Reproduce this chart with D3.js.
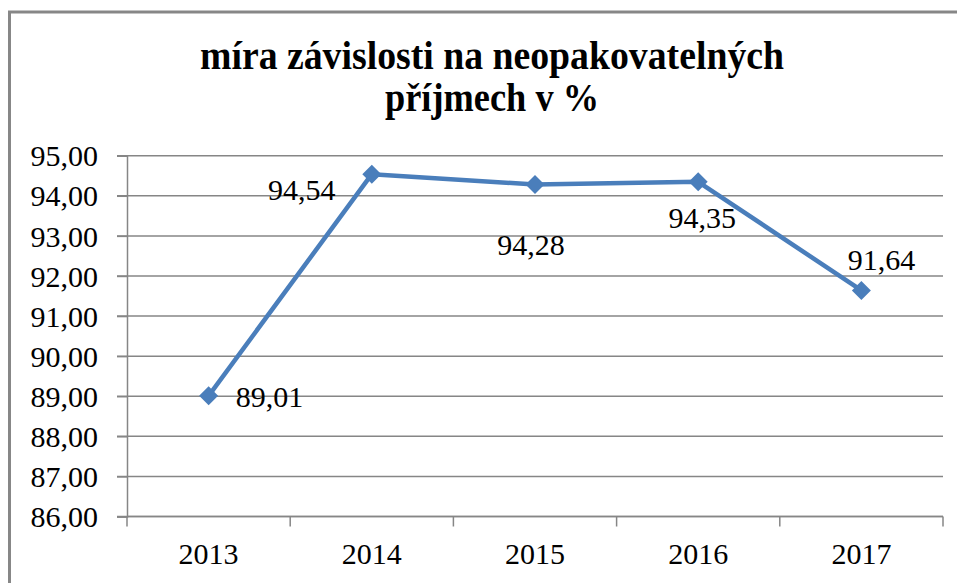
<!DOCTYPE html>
<html lang="cs">
<head>
<meta charset="utf-8">
<title>míra závislosti</title>
<script src="https://cdn.jsdelivr.net/npm/d3@7"></script>
<style>
  body { margin: 0; background: #fff; }
</style>
</head>
<body>
<script>
// data
var years = ["2013", "2014", "2015", "2016", "2017"];
var values = [89.01, 94.54, 94.28, 94.35, 91.64];
var yTicks = [86, 87, 88, 89, 90, 91, 92, 93, 94, 95];
var titleLines = ["míra závislosti na neopakovatelných", "příjmech v %"];

// where each value label sits relative to its point (dx = label centre, dy = baseline)
var labelOffsets = [[61, 11], [-70, 26], [-4, 70], [4, 46], [20, -20]];

var serif = "'Liberation Serif', 'Times New Roman', Times, 'DejaVu Serif', serif";
var width = 957, height = 583;
var plotLeft = 127, plotRight = 943, plotTop = 155.7, plotBottom = 516.5;

var svg = d3.select("body").append("svg")
    .attr("width", width)
    .attr("height", height)
    .attr("font-family", serif);

svg.append("rect")
    .attr("width", width).attr("height", height)
    .attr("fill", "#fff");

// outer chart border
svg.append("rect")
    .attr("x", 9.5).attr("y", 12)
    .attr("width", 970).attr("height", 620)
    .attr("fill", "none")
    .attr("stroke", "#878787")
    .attr("stroke-width", 3);

// title
svg.selectAll("text.title")
    .data(titleLines)
    .enter().append("text")
    .attr("class", "title")
    .attr("x", 492)
    .attr("y", function(d, i){ return i == 0 ? 69 : 111; })
    .attr("text-anchor", "middle")
    .style("font-family", serif)
    .style("font-weight", "bold")
    .style("font-size", "40px")
    .attr("textLength", function(d, i){ return i == 0 ? 584 : 214; })
    .attr("lengthAdjust", "spacingAndGlyphs")
    .text(function(d){ return d; });

var x = d3.scaleBand().domain(years).range([plotLeft, plotRight]);
var y = d3.scaleLinear().domain([86, 95]).range([plotBottom, plotTop]);

var fmt = function(v){ return d3.format(".2f")(v).replace(".", ","); };

// gridlines
svg.append("g")
    .selectAll("line")
    .data(yTicks)
    .enter().append("line")
    .attr("x1", plotLeft - 10).attr("x2", plotRight)
    .attr("y1", function(d){ return y(d); })
    .attr("y2", function(d){ return y(d); })
    .attr("stroke", "#868686")
    .attr("stroke-width", 1.5);

// y axis
var yAxis = svg.append("g")
    .attr("transform", "translate(" + plotLeft + ",0)")
    .call(d3.axisLeft(y).tickValues(yTicks).tickFormat(fmt).tickSize(10).tickPadding(19))
    .attr("font-family", serif)
    .attr("font-size", 30);
yAxis.select(".domain").attr("stroke", "#868686").attr("stroke-width", 1.5);
yAxis.selectAll(".tick line").attr("stroke", "#868686").attr("stroke-width", 1.5);
yAxis.selectAll("text")
    .attr("fill", "#000")
    .attr("dy", "0.34em")
    .style("font-size", "30px")
    .style("font-family", serif);

// x axis with ticks at band edges
var xAxis = svg.append("g")
    .attr("transform", "translate(0," + plotBottom + ")");
xAxis.append("line")
    .attr("x1", plotLeft).attr("x2", plotRight)
    .attr("stroke", "#868686").attr("stroke-width", 1.5);
var edges = years.map(function(d){ return x(d); }).concat([plotRight]);
xAxis.selectAll("line.tk")
    .data(edges)
    .enter().append("line")
    .attr("class", "tk")
    .attr("x1", function(d){ return d; }).attr("x2", function(d){ return d; })
    .attr("y1", 0).attr("y2", 10)
    .attr("stroke", "#868686").attr("stroke-width", 1.5);
xAxis.selectAll("text")
    .data(years)
    .enter().append("text")
    .attr("x", function(d){ return x(d) + x.bandwidth() / 2; })
    .attr("y", 47)
    .attr("text-anchor", "middle")
    .style("font-family", serif)
    .style("font-size", "30px")
    .text(function(d){ return d; });

var cx = function(i){ return x(years[i]) + x.bandwidth() / 2; };

// the line
var line = d3.line()
    .x(function(d, i){ return cx(i); })
    .y(function(d){ return y(d); });

svg.append("path")
    .datum(values)
    .attr("d", line)
    .attr("fill", "none")
    .attr("stroke", "#4a7ebb")
    .attr("stroke-width", 4.5)
    .attr("stroke-linejoin", "round");

// diamond markers
svg.selectAll("path.marker")
    .data(values)
    .enter().append("path")
    .attr("class", "marker")
    .attr("transform", function(d, i){ return "translate(" + cx(i) + "," + y(d) + ")"; })
    .attr("d", "M0,-9.5L9.5,0L0,9.5L-9.5,0Z")
    .attr("fill", "#4a7ebb");

// value labels
svg.selectAll("text.lbl")
    .data(values)
    .enter().append("text")
    .attr("class", "lbl")
    .attr("x", function(d, i){ return cx(i) + labelOffsets[i][0]; })
    .attr("y", function(d, i){ return y(d) + labelOffsets[i][1]; })
    .attr("text-anchor", "middle")
    .style("font-family", serif)
    .style("font-size", "30px")
    .text(fmt);
</script>
</body>
</html>
